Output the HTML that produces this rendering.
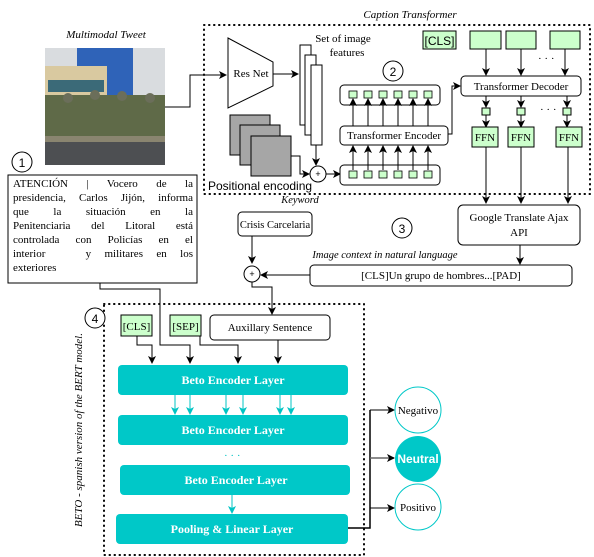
<!DOCTYPE html>
<html><head><meta charset="utf-8"><style>
html,body{margin:0;padding:0;background:#fff;}
svg{display:block;}
text{font-family:"Liberation Serif",serif;fill:#000;}
.s{font-family:"Liberation Sans",sans-serif;}
.i{font-style:italic;}
.b{font-weight:bold;fill:#fff;}
#tw{position:absolute;left:13px;top:177px;width:180px;font-family:"Liberation Serif",serif;font-size:11px;line-height:14px;color:#000;}
#tw div{text-align:justify;text-align-last:justify;white-space:nowrap;}
#tw div.l{text-align-last:left;}
</style></head><body>
<div style="position:relative;width:594px;height:557px;">
<svg width="594" height="557" viewBox="0 0 594 557" xmlns="http://www.w3.org/2000/svg">
<defs>
<marker id="a" markerWidth="8" markerHeight="8" refX="7" refY="4" orient="auto" markerUnits="userSpaceOnUse"><path d="M0,0 L8,4 L0,8 L2,4z" fill="#000"/></marker>
<marker id="c" markerWidth="8" markerHeight="8" refX="7" refY="4" orient="auto" markerUnits="userSpaceOnUse"><path d="M0,0 L8,4 L0,8 L2,4z" fill="#00c4c4"/></marker>
</defs>
<text x="106" y="38" font-size="11" text-anchor="middle" class="i">Multimodal Tweet</text>
<rect x="45" y="48" width="120" height="117" fill="#d9dcdf"/>
<rect x="77" y="48" width="56" height="60" fill="#2f63b8"/>
<rect x="45" y="66" width="62" height="50" fill="#d9c9a0"/>
<rect x="48" y="80" width="56" height="12" fill="#3b6a78"/>
<rect x="45" y="95" width="120" height="45" fill="#5f6a48"/>
<circle cx="68" cy="98" r="5" fill="#6b6e5a"/><circle cx="95" cy="95" r="5" fill="#6b6e5a"/><circle cx="122" cy="96" r="5" fill="#6b6e5a"/><circle cx="150" cy="98" r="5" fill="#6b6e5a"/>
<rect x="45" y="140" width="120" height="25" fill="#4d4f52"/>
<rect x="45" y="136" width="120" height="6" fill="#8a8570"/>
<path d="M165,107 H190 V75 H226" fill="none" stroke="#000" marker-end="url(#a)"/>
<text x="410" y="18" font-size="11" text-anchor="middle" class="i">Caption Transformer</text>
<rect x="204" y="25" width="386" height="169" fill="none" stroke="#000" stroke-width="2" stroke-dasharray="0.5,4.5" stroke-linecap="round"/>
<polygon points="228,38 273,62 273,86 228,108" fill="#fff" stroke="#000"/>
<text x="251" y="77" font-size="11" text-anchor="middle">Res Net</text>
<line x1="273" y1="74" x2="298" y2="74" stroke="#000" marker-end="url(#a)"/>
<text x="343" y="42" font-size="11" text-anchor="middle">Set of image</text>
<text x="347" y="56" font-size="11" text-anchor="middle">features</text>
<rect x="300" y="45" width="11" height="80" fill="#fff" stroke="#000"/>
<rect x="305" y="55" width="11" height="80" fill="#fff" stroke="#000"/>
<rect x="311" y="65" width="11" height="80" fill="#fff" stroke="#000"/>
<line x1="316" y1="145" x2="316" y2="165" stroke="#000" marker-end="url(#a)"/>
<rect x="230" y="115" width="40" height="40" fill="#a6a6a6" stroke="#000"/>
<rect x="240" y="125" width="40" height="40" fill="#a6a6a6" stroke="#000"/>
<rect x="251" y="136" width="40" height="40" fill="#a6a6a6" stroke="#000"/>
<path d="M291,156 H300 V174 H309" fill="none" stroke="#000" marker-end="url(#a)"/>
<text x="208" y="190" font-size="12" class="s">Positional encoding</text>
<circle cx="318" cy="174" r="8" fill="#fff" stroke="#000"/>
<text x="318" y="177" font-size="9" text-anchor="middle" class="s">+</text>
<line x1="326" y1="174" x2="340" y2="174" stroke="#000" marker-end="url(#a)"/>
<circle cx="393" cy="71" r="10" fill="#fff" stroke="#000"/>
<text x="393" y="76" font-size="12" text-anchor="middle" class="s">2</text>
<rect x="340" y="85" width="100" height="20" rx="4" fill="#fff" stroke="#000"/>
<rect x="340" y="165" width="100" height="20" rx="4" fill="#fff" stroke="#000"/>
<rect x="340" y="126" width="108" height="19" rx="4" fill="#fff" stroke="#000"/>
<text x="394" y="139" font-size="11" text-anchor="middle">Transformer Encoder</text>
<g fill="#ccffcc" stroke="#000" stroke-width="0.8">
<rect x="349" y="91" width="8" height="7"/><rect x="364" y="91" width="8" height="7"/><rect x="379" y="91" width="8" height="7"/><rect x="394" y="91" width="8" height="7"/><rect x="409" y="91" width="8" height="7"/><rect x="424" y="91" width="8" height="7"/>
<rect x="349" y="171" width="8" height="7"/><rect x="364" y="171" width="8" height="7"/><rect x="379" y="171" width="8" height="7"/><rect x="394" y="171" width="8" height="7"/><rect x="409" y="171" width="8" height="7"/><rect x="424" y="171" width="8" height="7"/>
</g>
<g stroke="#000" marker-end="url(#a)">
<line x1="353" y1="126" x2="353" y2="99"/><line x1="368" y1="126" x2="368" y2="99"/><line x1="383" y1="126" x2="383" y2="99"/><line x1="398" y1="126" x2="398" y2="99"/><line x1="413" y1="126" x2="413" y2="99"/><line x1="428" y1="126" x2="428" y2="99"/>
<line x1="353" y1="170" x2="353" y2="146"/><line x1="368" y1="170" x2="368" y2="146"/><line x1="383" y1="170" x2="383" y2="146"/><line x1="398" y1="170" x2="398" y2="146"/><line x1="413" y1="170" x2="413" y2="146"/><line x1="428" y1="170" x2="428" y2="146"/>
</g>
<path d="M448,134 H452 V86 H460" fill="none" stroke="#000" marker-end="url(#a)"/>
<rect x="423" y="31" width="33" height="18" fill="#ccffcc" stroke="#000"/>
<text x="439.5" y="45" font-size="12" text-anchor="middle" class="s">[CLS]</text>
<rect x="470" y="31" width="31" height="18" fill="#ccffcc" stroke="#000"/>
<rect x="506" y="31" width="30" height="18" fill="#ccffcc" stroke="#000"/>
<rect x="550" y="31" width="30" height="18" fill="#ccffcc" stroke="#000"/>
<text x="538" y="62" font-size="11">· · ·</text>
<g stroke="#000" marker-end="url(#a)">
<line x1="486" y1="49" x2="486" y2="75"/><line x1="521" y1="49" x2="521" y2="75"/><line x1="565" y1="49" x2="565" y2="75"/>
<line x1="486" y1="96" x2="486" y2="107"/><line x1="521" y1="96" x2="521" y2="107"/><line x1="567" y1="96" x2="567" y2="107"/>
<line x1="486" y1="115" x2="486" y2="127"/><line x1="521" y1="115" x2="521" y2="127"/><line x1="567" y1="115" x2="567" y2="127"/>
<line x1="486" y1="147" x2="486" y2="203"/><line x1="521" y1="147" x2="521" y2="203"/><line x1="568" y1="147" x2="568" y2="203"/>
</g>
<rect x="461" y="76" width="120" height="20" rx="4" fill="#fff" stroke="#000"/>
<text x="521" y="90" font-size="11" text-anchor="middle">Transformer Decoder</text>
<g fill="#ccffcc" stroke="#000">
<rect x="482" y="108" width="8" height="7"/><rect x="517" y="108" width="8" height="7"/><rect x="563" y="108" width="8" height="7"/>
<rect x="472" y="127" width="26" height="20"/><rect x="508" y="127" width="26" height="20"/><rect x="556" y="127" width="26" height="20"/>
</g>
<text x="485" y="141" font-size="11" text-anchor="middle">FFN</text>
<text x="521" y="141" font-size="11" text-anchor="middle">FFN</text>
<text x="569" y="141" font-size="11" text-anchor="middle">FFN</text>
<text x="540" y="113" font-size="11">· · ·</text>
<circle cx="22" cy="162" r="10" fill="#fff" stroke="#000"/>
<text x="22" y="167" font-size="12" text-anchor="middle" class="s">1</text>
<rect x="8" y="175" width="189" height="108" fill="#fff" stroke="#000"/>
<text x="300" y="203" font-size="10.5" text-anchor="middle" class="i">Keyword</text>
<rect x="238" y="212" width="74" height="24" rx="4" fill="#fff" stroke="#000"/>
<text x="275" y="228" font-size="10.5" text-anchor="middle">Crisis Carcelaria</text>
<circle cx="402" cy="228" r="10" fill="#fff" stroke="#000"/>
<text x="402" y="233" font-size="12" text-anchor="middle" class="s">3</text>
<rect x="458" y="205" width="122" height="40" rx="5" fill="#fff" stroke="#000"/>
<text x="519" y="221" font-size="11" text-anchor="middle">Google Translate Ajax</text>
<text x="519" y="236" font-size="11" text-anchor="middle">API</text>
<text x="385" y="258" font-size="10.5" text-anchor="middle" class="i">Image context in natural language</text>
<line x1="520" y1="245" x2="520" y2="264" stroke="#000" marker-end="url(#a)"/>
<rect x="310" y="265" width="262" height="21" rx="4" fill="#fff" stroke="#000"/>
<text x="441" y="279" font-size="11" text-anchor="middle">[CLS]Un grupo de hombres...[PAD]</text>
<line x1="252" y1="236" x2="252" y2="263" stroke="#000" marker-end="url(#a)"/>
<line x1="310" y1="275" x2="261" y2="275" stroke="#000" marker-end="url(#a)"/>
<circle cx="252" cy="274" r="8" fill="#fff" stroke="#000"/>
<text x="252" y="277" font-size="9" text-anchor="middle" class="s">+</text>
<path d="M252,282 V287 H272 V314" fill="none" stroke="#000" marker-end="url(#a)"/>
<rect x="104" y="304" width="260" height="251" fill="none" stroke="#000" stroke-width="2" stroke-dasharray="0.5,4.5" stroke-linecap="round"/>
<circle cx="95" cy="318" r="10" fill="#fff" stroke="#000"/>
<text x="95" y="323" font-size="12" text-anchor="middle" class="s">4</text>
<text transform="translate(82,430) rotate(-90)" font-size="11" text-anchor="middle" class="i">BETO - spanish version of the  BERT model.</text>
<rect x="121" y="315" width="31" height="21" fill="#ccffcc" stroke="#000"/>
<text x="136.5" y="330" font-size="11" text-anchor="middle">[CLS]</text>
<rect x="170" y="315" width="31" height="21" fill="#ccffcc" stroke="#000"/>
<text x="185.5" y="330" font-size="11" text-anchor="middle">[SEP]</text>
<rect x="210" y="315" width="120" height="25" rx="4" fill="#fff" stroke="#000"/>
<text x="270" y="331" font-size="11" text-anchor="middle">Auxillary Sentence</text>
<g fill="none" stroke="#000" marker-end="url(#a)">
<path d="M100,283 V289 H160 V345 H190 V363"/>
<path d="M137,336 V345 H152 V363"/>
<path d="M200,336 V345 H238 V363"/>
<path d="M278,340 V363"/>
</g>
<g fill="#00c8c8">
<rect x="118" y="365" width="230" height="30" rx="4"/>
<rect x="118" y="415" width="230" height="30" rx="4"/>
<rect x="120" y="465" width="230" height="30" rx="4"/>
<rect x="116" y="514" width="232" height="30" rx="4"/>
</g>
<g font-size="12" text-anchor="middle">
<text x="233" y="384" class="b">Beto Encoder Layer</text>
<text x="233" y="434" class="b">Beto Encoder Layer</text>
<text x="236" y="484" class="b">Beto Encoder Layer</text>
<text x="232" y="533" class="b">Pooling &amp; Linear Layer</text>
</g>
<text x="224" y="459" font-size="11" style="fill:#00c4c4">· · ·</text>
<g stroke="#00c4c4" marker-end="url(#c)">
<line x1="175" y1="395" x2="175" y2="414"/><line x1="190" y1="395" x2="190" y2="414"/><line x1="226" y1="395" x2="226" y2="414"/><line x1="243" y1="395" x2="243" y2="414"/><line x1="280" y1="395" x2="280" y2="414"/><line x1="291" y1="395" x2="291" y2="414"/>
<line x1="232" y1="495" x2="232" y2="513"/>
</g>
<path d="M348,528 H370 V410" fill="none" stroke="#000" stroke-width="1.5"/>
<line x1="370" y1="410" x2="394" y2="410" stroke="#000" marker-end="url(#a)"/>
<line x1="370" y1="458" x2="394" y2="458" stroke="#666" stroke-width="1.5" marker-end="url(#a)"/>
<line x1="370" y1="508" x2="394" y2="508" stroke="#000" marker-end="url(#a)"/>
<circle cx="418" cy="410" r="23" fill="#fff" stroke="#00c8c8"/>
<circle cx="418" cy="459" r="23" fill="#00c8c8"/>
<circle cx="418" cy="507" r="23" fill="#fff" stroke="#00c8c8"/>
<text x="418" y="414" font-size="11" text-anchor="middle">Negativo</text>
<text x="418" y="463" font-size="12" text-anchor="middle" class="s b">Neutral</text>
<text x="418" y="511" font-size="11" text-anchor="middle">Positivo</text>
</svg>
<div id="tw">
<div>ATENCIÓN | Vocero de la</div>
<div>presidencia, Carlos Jijón, informa</div>
<div>que la situación en la</div>
<div>Penitenciaria del Litoral está</div>
<div>controlada con Policías en el</div>
<div>interior &nbsp; y militares en los</div>
<div class="l">exteriores</div>
</div>
</div>
</body></html>
